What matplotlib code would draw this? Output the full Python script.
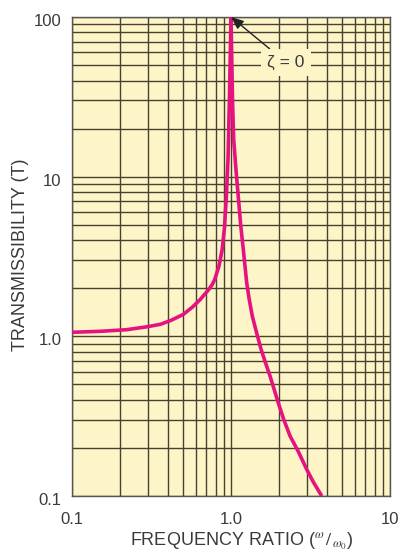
import matplotlib
matplotlib.use("Agg")
import matplotlib.pyplot as plt
from matplotlib.ticker import FixedLocator, FixedFormatter, LogLocator, NullFormatter
from matplotlib.transforms import ScaledTranslation

# ---- data ----
freq_ratio = [0.1, 0.15, 0.22, 0.30, 0.36, 0.42, 0.50, 0.57, 0.64, 0.72, 0.76, 0.79,
              0.84, 0.88, 0.91, 0.935, 0.958, 0.977, 1.0,
              1.022, 1.04, 1.075, 1.111, 1.15, 1.195, 1.255, 1.30, 1.361, 1.45, 1.545,
              1.65, 1.759, 1.98, 2.15, 2.35, 2.65, 2.99, 3.3, 3.72]
transmissibility = [1.06, 1.075, 1.10, 1.15, 1.19, 1.26, 1.37, 1.52, 1.70, 1.95, 2.1, 2.27,
                    2.75, 3.5, 4.8, 7.5, 13.0, 30.0, 100,
                    30.0, 17.0, 11.0, 7.5, 5.0, 3.5, 2.17, 1.72, 1.34, 1.05, 0.83,
                    0.68, 0.565, 0.385, 0.30, 0.238, 0.19, 0.147, 0.122, 0.1]
x_ticks = [0.1, 1.0, 10]
x_tick_labels = ["0.1", "1.0", "10"]
y_ticks = [0.1, 1.0, 10, 100]
y_tick_labels = ["0.1", "1.0", "10", "100"]
annotation_text = "ζ = 0"
annotation_point = (1.0, 100)
annotation_text_pos = (2.22, 52)

plt.rcParams['font.family'] = ['Liberation Sans', 'DejaVu Sans']
plt.rcParams['mathtext.fontset'] = 'stix'

BG = '#fdf5c8'
GRID = '#47412f'
TXT = '#3a3a3a'
CURVE = '#e5127f'

fig = plt.figure(figsize=(4.02, 5.53), dpi=100)
ax = fig.add_axes([72/402, 1-496/553, 318/402, 479/553])
ax.set_facecolor(BG)
ax.set_xscale('log')
ax.set_yscale('log')
ax.set_xlim(0.1, 10)
ax.set_ylim(0.1, 100)

ax.xaxis.set_major_locator(FixedLocator(x_ticks))
ax.xaxis.set_major_formatter(FixedFormatter(x_tick_labels))
ax.yaxis.set_major_locator(FixedLocator(y_ticks))
ax.yaxis.set_major_formatter(FixedFormatter(y_tick_labels))
ax.xaxis.set_minor_locator(LogLocator(base=10, subs=range(2, 10)))
ax.yaxis.set_minor_locator(LogLocator(base=10, subs=range(2, 10)))
ax.xaxis.set_minor_formatter(NullFormatter())
ax.yaxis.set_minor_formatter(NullFormatter())

ax.grid(which='both', color=GRID, linewidth=1.0)
ax.set_axisbelow(True)
ax.tick_params(which='both', length=0, labelsize=12, labelcolor=TXT)
ax.tick_params(axis='x', pad=11.5)
ax.tick_params(axis='y', pad=7.4)
for lab in ax.get_yticklabels():
    lab.set_transform(lab.get_transform() + ScaledTranslation(0, -3/100, fig.dpi_scale_trans))

for s in ax.spines.values():
    s.set_color('#555555')
    s.set_linewidth(1.0)

ax.plot(freq_ratio, transmissibility, color=CURVE, linewidth=2.6,
        solid_joinstyle='round', solid_capstyle='butt', zorder=3)

ax.annotate(annotation_text, xy=annotation_point, xytext=annotation_text_pos,
            fontsize=12.5, color=TXT, ha='center', va='center',
            bbox=dict(boxstyle='square,pad=0.35', facecolor=BG, edgecolor='none'),
            arrowprops=dict(arrowstyle='-|>,head_length=0.6,head_width=0.25',
                            color='#222222', linewidth=1.0, shrinkA=0, shrinkB=0),
            zorder=4)

ax.set_xlabel(r'FREQUENCY RATIO ($^{\omega\,}/_{\,\omega_0}$)', fontsize=13, color=TXT)
ax.xaxis.set_label_coords(0.534, -0.073)
ax.set_ylabel('TRANSMISSIBILITY (T)', fontsize=13, color=TXT)
ax.yaxis.set_label_coords(-0.135, 0.503)

fig.savefig('out.png', dpi=100, facecolor='white')
